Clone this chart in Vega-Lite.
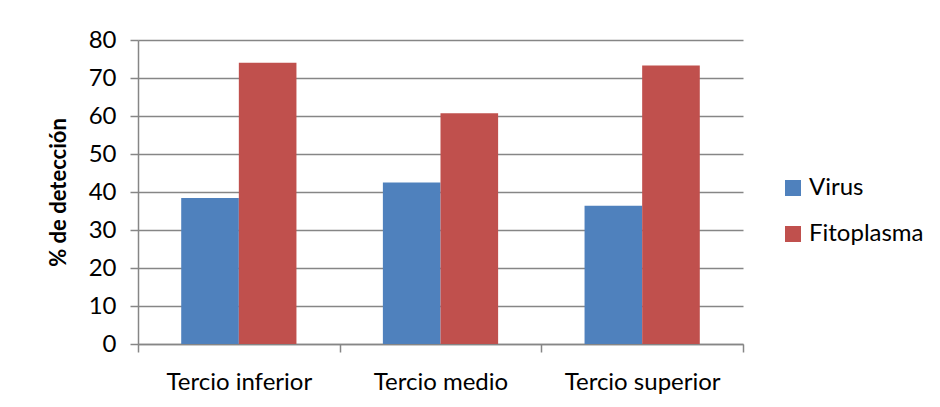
{
  "$schema": "https://vega.github.io/schema/vega-lite/v6.json",
  "autosize": {"type": "none"},
  "padding": {"left": 138, "top": 40, "right": 197, "bottom": 63},
  "width": 605,
  "height": 304,
  "background": "white",
  "config": {
    "font": "Lato",
    "view": {"stroke": null}
  },
  "data": {
    "values": [
      {"tercio": "Tercio inferior", "serie": "Virus", "pct": 38.4},
      {"tercio": "Tercio inferior", "serie": "Fitoplasma", "pct": 74.0},
      {"tercio": "Tercio medio", "serie": "Virus", "pct": 42.5},
      {"tercio": "Tercio medio", "serie": "Fitoplasma", "pct": 60.7},
      {"tercio": "Tercio superior", "serie": "Virus", "pct": 36.4},
      {"tercio": "Tercio superior", "serie": "Fitoplasma", "pct": 73.3}
    ]
  },
  "mark": {"type": "bar"},
  "encoding": {
    "x": {
      "field": "tercio",
      "type": "nominal",
      "sort": ["Tercio inferior", "Tercio medio", "Tercio superior"],
      "scale": {"paddingInner": 0, "paddingOuter": 0},
      "axis": {
        "title": null,
        "labelAngle": 0,
        "labelFontSize": 24,
        "labelColor": "black",
        "labelPadding": 18,
        "tickBand": "extent",
        "tickSize": 8,
        "tickColor": "#868686",
        "tickWidth": 1.5,
        "domainColor": "#868686",
        "domainWidth": 1.5,
        "grid": false
      }
    },
    "xOffset": {
      "field": "serie",
      "type": "nominal",
      "sort": ["Virus", "Fitoplasma"],
      "scale": {"paddingInner": 0, "paddingOuter": 0.75}
    },
    "y": {
      "field": "pct",
      "type": "quantitative",
      "scale": {"domain": [0, 80], "nice": false},
      "axis": {
        "title": "% de detección",
        "titleFontSize": 22,
        "titleFontWeight": "bold",
        "titleColor": "black",
        "titlePadding": 18,
        "values": [0, 10, 20, 30, 40, 50, 60, 70, 80],
        "labelFontSize": 24,
        "labelColor": "black",
        "labelPadding": 14,
        "tickSize": 8,
        "tickColor": "#868686",
        "tickWidth": 1.5,
        "domainColor": "#868686",
        "domainWidth": 1.5,
        "grid": true,
        "gridColor": "#868686",
        "gridWidth": 1.5
      }
    },
    "color": {
      "field": "serie",
      "type": "nominal",
      "sort": ["Virus", "Fitoplasma"],
      "scale": {"domain": ["Virus", "Fitoplasma"], "range": ["#4F81BD", "#C0504D"]},
      "legend": {
        "title": null,
        "orient": "none",
        "legendX": 643,
        "legendY": 136,
        "symbolType": "square",
        "symbolSize": 256,
        "symbolStrokeWidth": 0,
        "labelFontSize": 24,
        "labelColor": "black",
        "labelOffset": 4,
        "rowPadding": 22
      }
    }
  }
}
